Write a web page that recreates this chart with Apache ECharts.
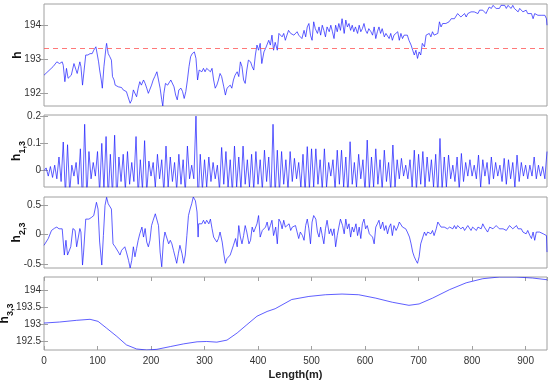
<!DOCTYPE html>
<html>
<head>
<meta charset="utf-8">
<script src="https://cdn.jsdelivr.net/npm/echarts@6/dist/echarts.min.js"></script>
<style>html,body{margin:0;padding:0;background:#fff}#c{width:550px;height:380px}</style>
</head>
<body>
<div id="c"></div>
<script>
// ---- data ----
const xTicks = [0, 100, 200, 300, 400, 500, 600, 700, 800, 900];
const hTicks = [192, 193, 194];
const h13Ticks = [0, 0.1, 0.2];
const h23Ticks = [-0.5, 0, 0.5];
const h33Ticks = [192.5, 193, 193.5, 194];
const hThreshold = 193.32;

const hLen = [0,17,24,29,34,36,39,42,45,48,51,56,59,62,65,67,69,72,75,78,82,86,90,93,97,99,102,104,107,109,112,116,117,120,123,126,128,131,133,136,139,142,145,148,151,154,157,161,164,167,170,173,176,179,182,186,189,192,195,198,201,204,207,211,214,217,220,222,224,227,231,234,237,240,243,246,249,252,256,259,262,265,268,271,274,277,281,284,286,287,290,292,295,298,301,304,307,311,314,317,320,323,326,329,332,336,339,342,345,348,351,354,357,361,364,367,370,373,376,379,382,386,389,392,395,398,401,404,407,411,414,417,420,423,426,429,432,436,439,442,445,448,451,454,457,461,464,467,470,473,476,479,482,486,489,492,495,498,501,504,507,511,514,517,520,523,526,529,533,536,539,542,545,548,551,554,557,561,564,567,570,573,576,579,582,586,589,592,595,598,601,604,607,611,614,617,620,623,626,629,632,636,639,642,645,648,651,654,657,661,664,667,670,673,676,679,682,686,689,692,695,698,701,704,707,711,714,717,720,723,726,729,732,736,739,742,745,748,751,754,757,761,764,767,770,773,776,779,782,786,789,792,795,798,801,804,807,811,814,817,820,823,826,829,832,836,839,842,845,848,851,854,857,861,864,867,870,873,876,879,882,886,889,892,895,898,901,904,907,911,914,917,920,923,926,929,932,936,939,940];
const hVal = [192.54,192.79,192.93,192.88,192.93,192.83,192.35,192.74,192.45,192.40,192.54,192.88,192.93,192.59,192.54,192.93,192.79,192.25,192.69,193.13,193.13,193.17,193.17,193.27,193.37,193.42,192.93,192.69,192.40,192.16,192.79,193.37,193.47,193.17,193.08,192.98,192.50,192.40,192.25,192.30,192.20,192.16,192.18,192.11,192.16,192.06,191.91,191.72,191.82,192.11,192.16,191.91,192.16,192.35,192.25,192.40,192.30,192.16,192.01,191.96,192.25,192.40,192.50,192.64,192.40,192.16,191.82,191.64,192.01,192.30,192.25,192.30,192.40,192.35,192.20,191.96,191.82,192.11,192.16,192.06,191.86,192.06,192.40,192.79,193.08,193.17,193.22,193.03,193.03,192.40,192.69,192.74,192.64,192.74,192.64,192.74,192.69,192.64,192.74,192.40,192.16,192.25,192.40,192.59,192.50,192.20,191.96,192.16,192.11,192.25,192.16,192.40,192.54,192.64,192.50,192.93,192.79,192.40,192.30,192.69,192.98,192.93,192.79,192.69,193.13,193.42,193.27,193.47,192.88,193.22,193.32,193.27,193.56,193.42,193.71,193.27,193.50,193.27,193.76,193.81,193.66,193.76,193.56,193.71,193.85,193.76,193.81,193.71,193.76,193.81,193.71,193.66,193.61,193.85,193.66,193.95,194.05,193.71,193.56,194.10,193.90,193.76,193.95,193.71,194.00,193.85,193.66,193.95,193.81,194.00,193.81,193.61,194.00,193.81,194.05,193.85,194.19,193.76,194.15,193.95,194.05,193.85,194.00,193.81,193.95,193.76,194.00,193.81,193.90,194.05,193.85,193.76,193.90,193.81,193.71,193.95,193.61,193.81,193.95,193.76,193.90,193.66,193.76,193.81,193.61,193.76,193.56,193.71,193.66,193.81,193.56,193.76,193.61,193.71,193.66,193.71,193.56,193.42,193.27,193.13,193.27,193.03,193.22,193.13,193.47,193.37,193.71,193.66,193.76,193.66,193.81,193.71,193.66,193.76,194.10,193.95,194.05,194.00,194.05,194.00,194.10,194.19,194.15,194.19,194.15,194.34,194.39,194.24,194.29,194.34,194.24,194.34,194.29,194.39,194.34,194.39,194.44,194.34,194.44,194.49,194.44,194.39,194.34,194.44,194.53,194.49,194.58,194.53,194.49,194.53,194.49,194.58,194.53,194.58,194.49,194.58,194.53,194.49,194.58,194.49,194.53,194.39,194.49,194.44,194.39,194.39,194.44,194.34,194.29,194.34,194.19,194.34,194.39,194.29,194.34,194.29,194.29,194.29,194.19,194.00];

const h13Step = 4; // sampling interval (m) of h1,3
const h13Val = [0.0,0.01,-0.02,0.015,-0.025,0.02,-0.03,0.05,-0.04,0.105,-0.09,0.095,-0.08,0.02,-0.02,0.03,-0.05,0.08,-0.12,0.17,-0.1,0.07,-0.03,0.03,-0.02,0.07,-0.08,0.1,-0.07,0.125,-0.1,0.06,-0.09,0.13,-0.11,0.05,-0.04,0.06,-0.07,0.07,-0.05,0.03,-0.04,0.125,-0.09,0.04,-0.07,0.11,-0.08,0.035,-0.02,0.03,-0.06,0.06,-0.03,0.04,-0.08,0.09,-0.06,0.05,-0.04,0.03,-0.07,0.06,-0.05,0.04,-0.08,0.09,-0.03,0.02,-0.03,0.2,-0.12,0.06,-0.07,0.04,-0.06,0.05,-0.04,0.03,-0.03,0.02,-0.07,0.085,-0.05,0.07,-0.06,0.04,-0.08,0.09,-0.06,0.05,-0.07,0.09,-0.05,0.04,-0.06,0.06,-0.07,0.07,-0.05,0.04,-0.07,0.075,-0.04,0.05,-0.1,0.17,-0.09,0.075,-0.08,0.07,-0.05,0.04,-0.07,0.07,-0.04,0.045,-0.03,0.03,-0.06,0.06,-0.08,0.088,-0.07,0.08,-0.06,0.08,-0.05,0.04,-0.07,0.08,-0.06,0.03,-0.02,0.04,-0.07,0.075,-0.05,0.075,-0.06,0.05,-0.09,0.106,-0.05,0.03,-0.06,0.06,-0.03,0.04,-0.08,0.112,-0.07,0.05,-0.06,0.08,-0.05,0.04,-0.07,0.075,-0.04,0.03,-0.07,0.094,-0.06,0.04,-0.03,0.045,-0.02,0.02,-0.03,0.04,-0.06,0.075,-0.07,0.06,-0.05,0.07,-0.06,0.05,-0.04,0.04,-0.06,0.06,-0.09,0.118,-0.07,0.05,-0.06,0.057,-0.03,0.02,-0.04,0.05,-0.07,0.063,-0.04,0.03,-0.02,0.04,-0.02,0.02,-0.03,0.057,-0.06,0.04,-0.02,0.03,-0.05,0.05,-0.03,0.03,-0.02,0.02,-0.04,0.045,-0.05,0.04,-0.03,0.03,-0.06,0.057,-0.04,0.03,-0.02,0.02,-0.03,0.02,-0.02,0.05,-0.03,0.02,-0.02,0.015,-0.03,0.07];

const h23Len = [0,8,14,20,24,28,31,34,38,41,44,47,50,54,58,61,64,67,69,72,74,78,81,84,89,93,98,101,104,108,111,114,117,120,123,126,129,133,136,139,142,145,148,151,154,158,161,164,167,170,173,176,179,183,186,189,192,195,198,201,204,208,211,214,217,220,223,226,229,233,236,239,242,245,248,251,254,258,261,264,267,270,273,276,279,283,286,288,289,292,295,298,301,304,308,311,314,317,320,323,326,329,333,336,339,342,345,348,351,354,358,361,364,367,370,373,376,379,383,386,389,392,395,398,401,404,408,411,414,417,420,423,426,429,433,436,439,442,445,448,451,454,458,461,464,467,470,473,476,479,483,486,489,492,495,498,501,504,508,511,514,517,520,523,526,529,533,536,539,542,545,548,551,554,558,561,564,567,570,573,576,579,583,586,589,592,595,598,601,604,608,611,614,617,620,623,626,629,633,636,639,642,645,648,651,654,658,661,664,667,670,673,676,679,683,686,689,692,695,698,701,704,708,711,714,717,720,723,726,729,733,736,739,742,745,748,751,754,758,761,764,767,770,773,776,779,783,786,789,792,795,798,801,804,808,811,814,817,820,823,826,829,833,836,839,842,845,848,851,854,858,861,864,867,870,873,876,879,883,886,889,892,895,898,901,904,908,911,914,917,920,923,926,929,933,936,939,940];
const h23Val = [-0.185,-0.07,0.067,0.107,0.124,0.095,0.124,0.095,-0.35,-0.10,-0.35,-0.38,-0.21,0.10,0.07,-0.21,-0.24,0.10,0.04,-0.52,-0.30,0.26,0.29,0.26,0.29,0.32,0.545,0.43,-0.13,-0.52,-0.02,0.49,0.63,0.52,0.49,0.43,-0.16,-0.21,-0.185,-0.30,-0.35,-0.27,-0.30,-0.21,-0.30,-0.44,-0.57,-0.44,-0.21,-0.38,-0.24,-0.10,0.01,0.124,-0.045,0.10,-0.13,-0.21,-0.10,0.15,0.24,0.35,0.32,0.15,-0.30,-0.55,-0.13,0.04,0.01,-0.16,-0.10,-0.16,-0.27,-0.38,-0.49,-0.33,-0.185,-0.33,-0.49,-0.35,-0.02,0.32,0.43,0.52,0.635,0.57,0.38,-0.045,0.18,0.21,0.18,0.24,0.18,0.24,0.18,0.26,0.10,-0.045,-0.02,-0.13,-0.07,0.04,-0.13,-0.33,-0.49,-0.41,-0.44,-0.35,-0.38,-0.185,-0.07,-0.21,0.15,-0.045,-0.16,-0.02,0.15,0.04,-0.16,-0.10,0.124,0.04,0.01,0.18,0.32,-0.045,0.067,0.10,0.124,0.21,0.067,0.15,0.24,-0.02,0.124,-0.16,0.26,0.21,0.095,0.24,0.124,0.15,0.18,0.067,0.124,0.095,0.15,0.04,-0.07,0.04,-0.02,-0.10,0.15,0.26,0.095,-0.16,0.21,0.32,0.26,0.04,-0.045,0.124,-0.02,-0.16,0.095,0.24,0.01,0.095,-0.02,0.095,-0.21,-0.02,0.124,0.26,0.15,0.01,0.26,0.095,0.18,-0.045,0.124,0.04,0.18,-0.02,0.124,-0.07,0.18,0.26,0.095,0.15,0.01,0.04,-0.045,-0.16,0.124,0.18,0.24,0.095,0.21,0.067,0.15,0.01,0.124,0.18,-0.02,0.15,0.067,0.124,0.21,0.24,0.124,0.15,0.095,0.04,-0.045,-0.16,-0.30,-0.38,-0.44,-0.49,-0.38,-0.16,-0.045,0.04,-0.02,0.04,0.067,0.01,0.067,-0.02,0.095,0.21,0.18,0.124,0.15,0.124,0.15,0.095,0.124,0.095,0.095,0.15,0.095,0.15,0.124,0.095,0.124,0.067,0.095,0.15,0.124,0.067,0.124,0.095,0.067,0.124,0.15,0.095,0.18,0.124,0.095,0.04,0.124,0.15,0.095,0.124,0.15,0.124,0.095,0.124,0.095,0.124,0.067,0.095,0.15,0.124,0.095,0.124,0.15,0.095,0.067,0.095,0.04,0.067,0.01,0.067,-0.02,-0.07,0.04,-0.10,0.04,0.01,0.04,0.01,0.01,0.04,-0.02,-0.30];

const h33Len = [0,29,61,86,101,117,136,154,173,192,211,236,261,286,304,323,342,361,379,398,417,432,463,495,526,557,588,620,651,682,701,726,758,789,820,851,882,913,940];
const h33Val = [193.03,193.06,193.11,193.14,193.08,192.88,192.64,192.39,192.27,192.24,192.26,192.34,192.42,192.48,192.49,192.47,192.53,192.74,192.98,193.23,193.37,193.45,193.72,193.81,193.86,193.88,193.86,193.76,193.64,193.55,193.59,193.76,194.01,194.21,194.33,194.38,194.38,194.35,194.30];

// ---- chart ----
const pair = (xs, ys) => ys.map((v, i) => [xs[i], v]);
const h13Data = h13Val.map((v, i) => [i * h13Step, v]);

const FRAME = '#a0a0a0';
const TXT = '#333';
const FONT = 'Liberation Sans, Arial, sans-serif';
const grids = [
  {left: 44, right: 3, top: 4, height: 102},
  {left: 44, right: 3, top: 115, height: 72},
  {left: 44, right: 3, top: 197, height: 71},
  {left: 44, right: 3, top: 277, height: 73}
].map(g => Object.assign({show: true, borderColor: FRAME, borderWidth: 1, backgroundColor: '#fff',
  containLabel: false, outerBoundsMode: 'none'}, g));

const xAxes = [];
const yAxes = [];
for (let i = 0; i < 4; i++) {
  const last = i === 3;
  xAxes.push({
    gridIndex: i, type: 'value', min: 0, max: 940, interval: 100, position: 'bottom',
    axisLine: {show: false}, splitLine: {show: false},
    axisTick: {show: last, inside: true, length: 4, lineStyle: {color: FRAME}},
    axisLabel: {show: last, fontSize: 10, color: TXT, fontFamily: FONT, margin: 6, showMaxLabel: false},
    name: last ? 'Length(m)' : '', nameLocation: 'middle', nameGap: 19, nameMoveOverlap: false,
    nameTextStyle: {fontSize: 11, fontWeight: 'bold', color: '#222', fontFamily: FONT}
  });
  xAxes.push({
    gridIndex: i, type: 'value', min: 0, max: 940, interval: 100, position: 'top',
    axisLine: {show: false}, splitLine: {show: false},
    axisTick: {show: last, inside: true, length: 4, lineStyle: {color: FRAME}},
    axisLabel: {show: false}
  });
}
const yDefs = [
  {min: 191.64, max: 194.62, ticks: hTicks, name: '{b|h}', gap: 16},
  {min: -0.06, max: 0.204, ticks: h13Ticks, name: '{b|h}{s|1,3}', gap: 17},
  {min: -0.57, max: 0.635, ticks: h23Ticks, name: '{b|h}{s|2,3}', gap: 17},
  {min: 192.24, max: 194.38, ticks: h33Ticks, name: '{b|h}{s|3,3}', gap: 29}
];
const rich = {
  b: {fontSize: 12, fontWeight: 'bold', color: '#111', fontFamily: FONT, lineHeight: 20},
  s: {fontSize: 9, fontWeight: 'bold', color: '#111', fontFamily: FONT, lineHeight: 9, verticalAlign: 'bottom'}
};
yDefs.forEach((d, i) => {
  yAxes.push({
    gridIndex: i, type: 'value', min: d.min, max: d.max, position: 'left',
    axisLine: {show: false}, splitLine: {show: false},
    axisTick: {show: true, inside: true, length: 4, customValues: d.ticks, lineStyle: {color: FRAME}},
    axisLabel: {customValues: d.ticks, fontSize: 10, color: TXT, fontFamily: FONT, margin: 3},
    name: d.name, nameLocation: 'middle', nameRotate: 90, nameGap: d.gap, nameMoveOverlap: false,
    nameTextStyle: {rich: rich}
  });
  yAxes.push({
    gridIndex: i, type: 'value', min: d.min, max: d.max, position: 'right',
    axisLine: {show: false}, splitLine: {show: false},
    axisTick: {show: true, inside: true, length: 4, customValues: d.ticks, lineStyle: {color: FRAME}},
    axisLabel: {show: false}
  });
});

const lineStyle = {color: '#1a1aff', width: 0.7};
const mk = (i, data, extra) => Object.assign({
  type: 'line', xAxisIndex: i * 2, yAxisIndex: i * 2, data: data,
  showSymbol: false, symbol: 'none', lineStyle: lineStyle, clip: true, silent: true
}, extra || {});

const option = {
  animation: false,
  backgroundColor: '#fff',
  grid: grids,
  xAxis: xAxes,
  yAxis: yAxes,
  series: [
    mk(0, pair(hLen, hVal), {
      markLine: {
        silent: true, symbol: 'none', label: {show: false},
        lineStyle: {color: '#ff5555', type: [5, 4], width: 0.8},
        data: [{yAxis: hThreshold}]
      }
    }),
    mk(1, h13Data),
    mk(2, pair(h23Len, h23Val)),
    mk(3, pair(h33Len, h33Val))
  ]
};
const chart = echarts.init(document.getElementById('c'), null, {renderer: 'canvas'});
chart.setOption(option);
</script>
</body>
</html>
